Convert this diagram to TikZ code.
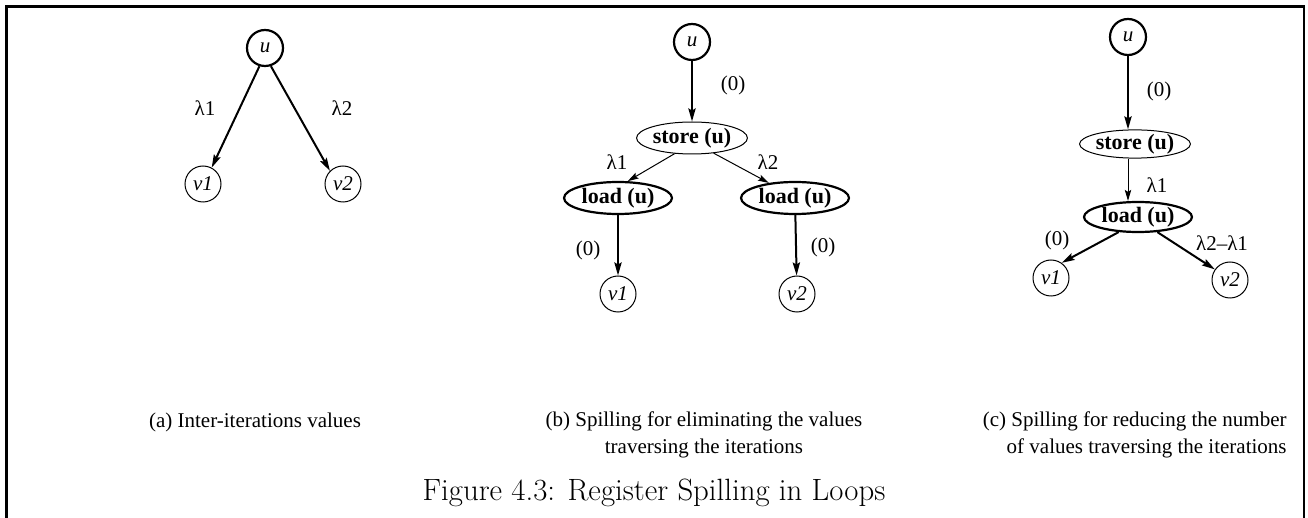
\documentclass[tikz,border=0pt]{standalone}
\usepackage{fontspec}
\newfontfamily\tms{Liberation Serif}
\newfontfamily\capfont{Latin Modern Roman}
\usetikzlibrary{shapes.geometric,arrows.meta}
\begin{document}
\begin{tikzpicture}[x=0.5pt,y=-0.5pt,
 every node/.style={font=\tms\fontsize{10.5}{13.4}\selectfont},
 vcirc/.style={circle,draw,line width=0.5pt,minimum size=18pt,inner sep=0pt,font=\tms\itshape\fontsize{10.5}{12}\selectfont},
 ucirc/.style={vcirc,line width=1.1pt},
 opbox/.style={ellipse,draw,line width=0.5pt,inner sep=0pt,minimum width=54pt,minimum height=16pt,font=\tms\bfseries\fontsize{11}{12}\selectfont},
 opthick/.style={opbox,line width=1.1pt},
 edgethick/.style={line width=1pt,-{Stealth[length=6.5pt,width=3.6pt,inset=1pt]}},
 edgethin/.style={line width=0.5pt,-{Stealth[length=5.5pt,width=3.2pt,inset=1pt]}},
 lbl/.style={inner sep=0pt},
 frame/.style={line width=1.3pt}
]
\useasboundingbox (0,0) rectangle (1308,518);
% frame (open at bottom)
\coordinate (fbl) at (6.2,518);
\coordinate (ftl) at (6.2,6.6);
\coordinate (ftr) at (1304,6.6);
\coordinate (fbr) at (1304,518);
\draw[frame] (fbl) -- (ftl) -- (ftr) -- (fbr);

% ---------- panel (a)
\node[ucirc] (au) at (265,48) {u};
\node[vcirc] (av1) at (203,184) {v1};
\node[vcirc] (av2) at (343,184) {v2};
\draw[edgethick] (au.253) -- (av1.62);
\draw[edgethick] (au.288) -- (av2.135);
\node[lbl] (al1) at (205,108) {λ1};
\node[lbl] (al2) at (342,108) {λ2};

% ---------- panel (b)
\node[ucirc] (bu) at (692,42) {u};
\node[opbox] (bst) at (692,138) {store (u)};
\node[opthick] (bl1) at (618,198) {load (u)};
\node[opthick] (bl2) at (795,198) {load (u)};
\node[vcirc] (bv1) at (618,294) {v1};
\node[vcirc] (bv2) at (797,294) {v2};
\draw[edgethick] (bu) -- (bst);
\draw[edgethin] (bst.222) -- (bl1.60);
\draw[edgethin] (bst.325) -- (bl2.150);
\draw[edgethick] (bl1) -- (bv1);
\draw[edgethick] (bl2) -- (bv2);
\node[lbl] (b0a) at (733,85) {(0)};
\node[lbl] (bl1l) at (617,162) {λ1};
\node[lbl] (bl2l) at (768,162) {λ2};
\node[lbl] (b0b) at (588,250) {(0)};
\node[lbl] (b0c) at (823,247) {(0)};

% ---------- panel (c)
\node[ucirc] (cu) at (1128,37) {u};
\node[opbox,minimum height=12.5pt] (cst) at (1135,144) {store (u)};
\node[opthick,minimum height=15pt] (cld) at (1138,217) {load (u)};
\node[vcirc] (cv1) at (1051,278) {v1};
\node[vcirc] (cv2) at (1230,280) {v2};
\draw[edgethick] (cu.south) -- (cu.south |- cst.north);
\draw[edgethin] (cu.south |- cst.south) -- (cu.south |- cld.north);
\draw[edgethick] (cld.218) -- (cv1.55);
\draw[edgethick] (cld.322) -- (cv2.145);
\node[lbl] (c0a) at (1159,91) {(0)};
\node[lbl] (cl1) at (1157,185) {λ1};
\node[lbl] (c0b) at (1057,240) {(0)};
\node[lbl] (cl21) at (1222,243) {λ2–λ1};

% ---------- captions
\node[lbl] (capa) at (255,422) {(a) Inter-iterations values};
\node[lbl,align=center] (capb) at (704,435) {(b) Spilling for eliminating the values\\traversing the iterations};
\node[lbl,align=right,anchor=east] (capc) at (1287,435) {(c) Spilling for reducing the number\\of values traversing the iterations};
\node[lbl,font=\capfont\fontsize{15.4}{18}\selectfont] (fig) at (654,493) {Figure 4.3: Register Spilling in Loops};
\end{tikzpicture}
\end{document}
